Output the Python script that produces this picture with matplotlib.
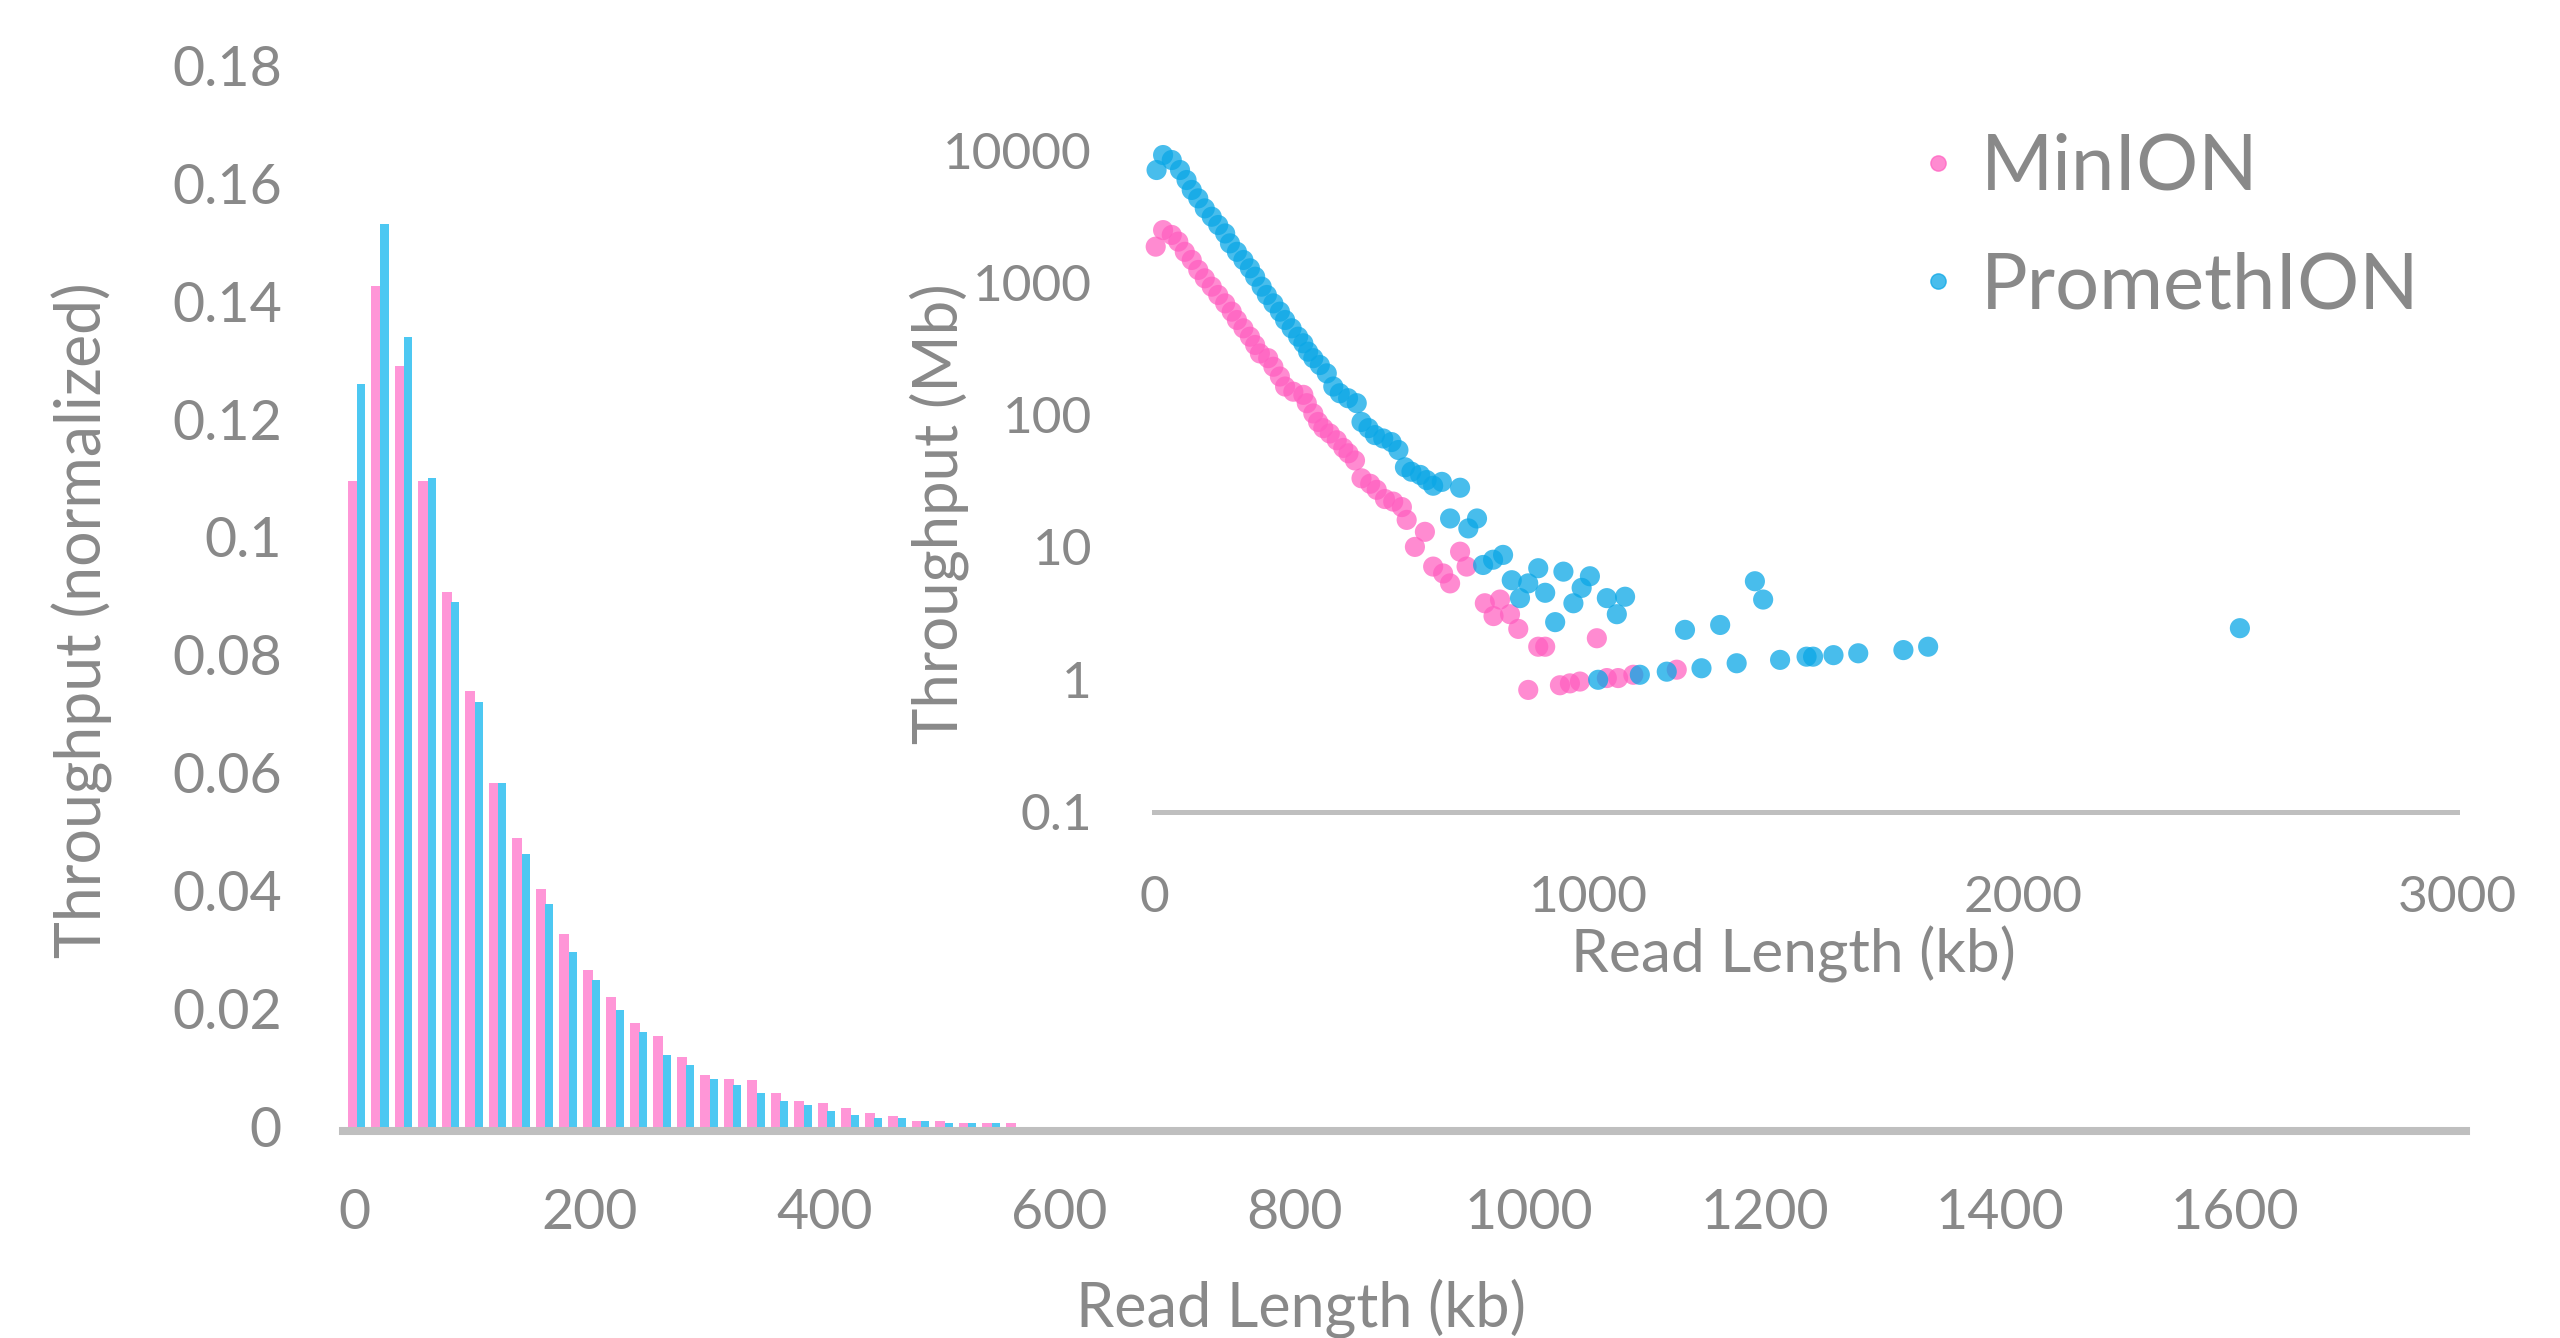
import numpy as np
import matplotlib
matplotlib.use("Agg")
import matplotlib.pyplot as plt
from matplotlib.lines import Line2D

plt.rcParams['font.family'] = ['Lato', 'DejaVu Sans']

# histogram: normalized throughput per 20 kb bin
bins_kb = list(range(0, 580, 20))
minion_norm = [0.1095, 0.1426, 0.129, 0.1095, 0.0906, 0.0739, 0.0583, 0.0489, 0.0403, 0.0326,
               0.0265, 0.0219, 0.0175, 0.0154, 0.0118, 0.0088, 0.0080, 0.0079, 0.0057, 0.0044,
               0.0040, 0.0031, 0.0023, 0.0018, 0.0010, 0.0010, 0.0006, 0.0006, 0.0006]
prom_norm = [0.126, 0.153, 0.134, 0.110, 0.0889, 0.0720, 0.0583, 0.0463, 0.0377, 0.0296,
             0.0248, 0.0197, 0.0161, 0.0122, 0.0105, 0.0080, 0.0071, 0.0057, 0.0044, 0.0036,
             0.0027, 0.0019, 0.0014, 0.0014, 0.0010, 0.0006, 0.0006, 0.0006, 0.0]

# inset: throughput (Mb) vs read length (kb)
minion_len = [3, 20, 40, 55, 70, 86, 101, 116, 132, 147, 163, 178, 190, 205, 220, 232, 243, 262, 274, 289,
              301, 320, 343, 351, 366, 377, 389, 404, 420, 435, 447, 462, 477, 497, 512, 531, 550, 570, 581, 600,
              623, 642, 665, 681, 704, 719, 761, 781, 796, 819, 838, 884, 900, 1019, 861, 934, 957, 980, 1042, 1068,
              1103, 1203]
minion_mb = [1860, 2480, 2280, 2030, 1700, 1475, 1240, 1072, 927, 802, 693, 600, 519, 449, 388, 336, 290, 267, 230, 194,
             163, 149, 141, 122, 102, 88, 79, 72, 64, 56, 51, 45, 33, 30, 27, 23, 22, 20, 16, 10,
             13, 7.1, 6.3, 5.3, 9.2, 7.1, 3.75, 3.0, 4.0, 3.1, 2.4, 1.76, 1.76, 2.04, 0.83, 0.90, 0.93, 0.96, 1.02, 1.02,
             1.08, 1.18]
prom_len = [5, 20, 40, 59, 74, 86, 101, 116, 132, 147, 163, 174, 190, 205, 220, 232, 247, 259, 274, 289,
            301, 316, 331, 343, 354, 366, 381, 397, 412, 427, 446, 466, 477, 493, 508, 527, 546, 562, 577, 592,
            612, 627, 642, 662, 704,
            681, 723, 743, 757, 780, 803, 823, 842, 861, 884, 900, 923, 942, 965, 984, 1003, 1042, 1065, 1084, 1222,
            1303, 1383, 1402,
            1022, 1118, 1180, 1260, 1341, 1441, 1502, 1517, 1564, 1621, 1725, 1782, 2500]
prom_mb = [7060, 9160, 8400, 7060, 5930, 4990, 4310, 3620, 3130, 2710, 2340, 1970, 1700, 1475, 1276, 1102, 927, 802, 693, 600,
           519, 449, 388, 346, 299, 267, 237, 205, 163, 145, 133, 122, 88, 79, 70, 66, 62, 54, 40, 37,
           35, 32, 29, 31, 28,
           16.4, 13.8, 16.4, 7.3, 8.0, 8.7, 5.6, 4.1, 5.3, 6.9, 4.5, 2.7, 6.5, 3.75, 4.9, 6.0, 4.1, 3.1, 4.2, 2.36,
           2.57, 5.5, 4.0,
           0.99, 1.08, 1.14, 1.21, 1.32, 1.40, 1.48, 1.48, 1.52, 1.57, 1.66, 1.76, 2.43]

main_yticks = [0, 0.02, 0.04, 0.06, 0.08, 0.1, 0.12, 0.14, 0.16, 0.18]
main_ylabels = ['0', '0.02', '0.04', '0.06', '0.08', '0.1', '0.12', '0.14', '0.16', '0.18']
main_xticks = [0, 200, 400, 600, 800, 1000, 1200, 1400, 1600]
inset_yticks = [0.1, 1, 10, 100, 1000, 10000]
inset_ylabels = ['0.1', '1', '10', '100', '1000', '10000']
inset_xticks = [0, 1000, 2000, 3000]

pink_bar = '#FF96D7'
blue_bar = '#4DC8F2'
pink_dot = '#FF5EC0'
blue_dot = '#0BA7E6'
text_gray = '#898989'
axis_gray = '#BFBFBF'

W, H = 2560, 1338
fig = plt.figure(figsize=(W / 100, H / 100), dpi=100)

# main histogram
ax = fig.add_axes([343 / W, 1 - 1126.6 / H, (2466 - 343) / W, (1126.6 - 65.3) / H])
x = np.array(bins_kb)
ax.bar(x - 1.25, minion_norm, width=8.5, color=pink_bar, zorder=2)
ax.bar(x + 6.0, prom_norm, width=7.0, color=blue_bar, zorder=3)
ax.set_xlim(-9.4, 1797)
ax.set_ylim(0, 0.18)
ax.set_yticks(main_yticks)
ax.set_yticklabels(main_ylabels)
ax.set_xticks(main_xticks)
ax.set_xticklabels([str(v) for v in main_xticks])
for s in ['top', 'right', 'left']:
    ax.spines[s].set_visible(False)
# axis line sits just under the bars
ax.spines['bottom'].set_position(('outward', 2.9))
ax.spines['bottom'].set_color(axis_gray)
ax.spines['bottom'].set_linewidth(5.8)
ax.spines['bottom'].set_zorder(5)
ax.tick_params(axis='y', length=0, pad=44, labelsize=40, labelcolor=text_gray)
ax.tick_params(axis='x', length=0, pad=41, labelsize=40, labelcolor=text_gray)
ax.set_facecolor('none')

fig.text(1301 / W, 1 - 1308 / H, 'Read Length (kb)', ha='center', va='center',
         fontsize=44, color=text_gray)
fig.text(82 / W, 1 - 620 / H, 'Throughput (normalized)', ha='center', va='center',
         rotation=90, fontsize=45, color=text_gray)

# inset scatter
ins = fig.add_axes([1154.4 / W, 1 - 811.5 / H, 1302.6 / W, (811.5 - 150) / H])
ins.set_yscale('log')
ins.scatter(minion_len, minion_mb, s=210, color=pink_dot, alpha=0.72, edgecolors='none',
            clip_on=False, zorder=3)
ins.scatter(prom_len, prom_mb, s=210, color=blue_dot, alpha=0.75, edgecolors='none',
            clip_on=False, zorder=4)
ins.set_xlim(0, 3000)
ins.set_ylim(0.1, 10000)
ins.set_yticks(inset_yticks)
ins.set_yticklabels(inset_ylabels)
ins.yaxis.set_minor_locator(plt.NullLocator())
ins.set_xticks(inset_xticks)
ins.set_xticklabels([str(v) for v in inset_xticks])
for s in ['top', 'right', 'left']:
    ins.spines[s].set_visible(False)
ins.spines['bottom'].set_color(axis_gray)
ins.spines['bottom'].set_linewidth(3.6)
ins.tick_params(axis='y', which='both', length=0, pad=45, labelsize=37, labelcolor=text_gray)
ins.tick_params(axis='x', length=0, pad=46, labelsize=37, labelcolor=text_gray)
ins.set_facecolor('none')

fig.text(1793 / W, 1 - 954 / H, 'Read Length (kb)', ha='center', va='center',
         fontsize=43.5, color=text_gray)
fig.text(939 / W, 1 - 514 / H, 'Throughput (Mb)', ha='center', va='center',
         rotation=90, fontsize=44.5, color=text_gray)

handles = [Line2D([], [], linestyle='none', marker='o', markersize=11, color=pink_dot, alpha=0.72),
           Line2D([], [], linestyle='none', marker='o', markersize=11, color=blue_dot, alpha=0.75)]
leg = ins.legend(handles, ['MinION', 'PromethION'], loc='upper left',
                 bbox_to_anchor=(1915 / W, 1 - 133 / H), bbox_transform=fig.transFigure,
                 frameon=False, fontsize=56, handlelength=0.6, handletextpad=0.25,
                 labelspacing=0.61, borderpad=0, borderaxespad=0)
for t in leg.get_texts():
    t.set_color(text_gray)

fig.savefig('out.png', dpi=100)
